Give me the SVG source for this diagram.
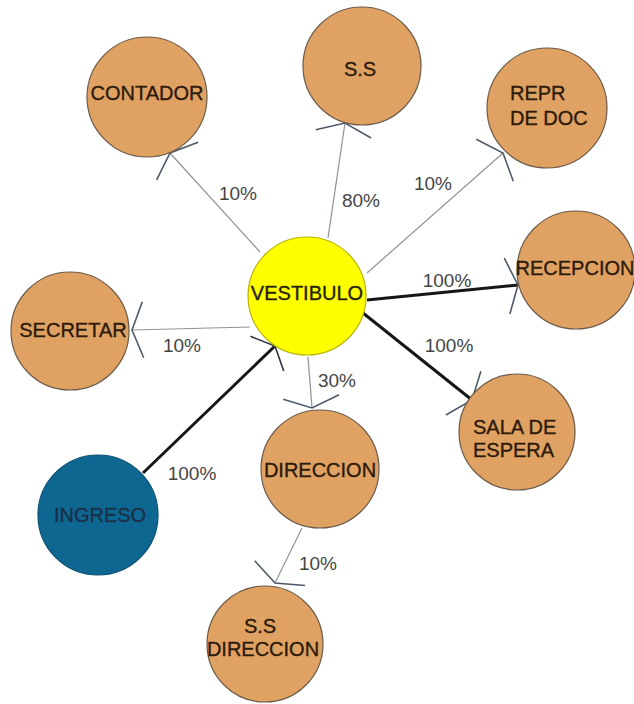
<svg xmlns="http://www.w3.org/2000/svg" width="634" height="704" viewBox="0 0 634 704">
  <defs>
    <style>
      .room { fill: #E0A263; stroke: #6b5a48; stroke-width: 1.2; }
      .hub { fill: #FFFF00; stroke: #b8b400; stroke-width: 1.2; }
      .entry { fill: #0D6791; stroke: #0a4f70; stroke-width: 1.2; }
      .name { font-family: "Liberation Sans", Arial, sans-serif; font-size: 20px; fill: #2c1a0a; stroke: #2c1a0a; stroke-width: 0.35; }
      .entry-name { fill: #1a3048; stroke: #1a3048; }
      .hub-name { fill: #26220a; stroke: #26220a; }
      .pct { font-family: "Liberation Sans", Arial, sans-serif; font-size: 19px; fill: #454545; }
      .thin { stroke: #8d9299; stroke-width: 1.2; fill: none; marker-end: url(#barb); }
      .thick { stroke: #161616; stroke-width: 3; fill: none; marker-end: url(#barb); }
      .thick.dark { marker-end: url(#barb-dark); }
    </style>
    <!-- open wide-angle arrowheads, sized in user units so line width does not scale them -->
    <marker id="barb" markerUnits="userSpaceOnUse" orient="auto" markerWidth="40" markerHeight="70" refX="20" refY="35" viewBox="0 0 40 70">
      <path d="M 9 7 L 20 35 L 9 63" fill="none" stroke="#4e5a67" stroke-width="1.6"/>
    </marker>
    <marker id="barb-dark" markerUnits="userSpaceOnUse" orient="auto" markerWidth="40" markerHeight="70" refX="20" refY="35" viewBox="0 0 40 70">
      <path d="M 9 11 L 20 35 L 9 59" fill="none" stroke="#2b3340" stroke-width="1.6"/>
    </marker>
  </defs>

  <rect x="0" y="0" width="634" height="704" fill="#ffffff"/>

  <!-- connectors -->
  <g id="connectors">
    <line class="thin" x1="260" y1="252" x2="170" y2="153"/>
    <line class="thin" x1="328" y1="238" x2="345" y2="123"/>
    <line class="thin" x1="367" y1="273" x2="503" y2="153"/>
    <line class="thick" x1="367" y1="300" x2="518" y2="285"/>
    <line class="thick" x1="363" y1="313" x2="472" y2="400"/>
    <line class="thin" x1="250" y1="327" x2="132" y2="330"/>
    <line class="thin" x1="308" y1="357" x2="312" y2="408"/>
    <line class="thick dark" x1="143" y1="473" x2="275" y2="346"/>
    <line class="thin" x1="302" y1="528" x2="275" y2="583"/>

    <text class="pct" x="238" y="200" text-anchor="middle">10%</text>
    <text class="pct" x="361" y="207" text-anchor="middle">80%</text>
    <text class="pct" x="433" y="190" text-anchor="middle">10%</text>
    <text class="pct" x="447" y="287" text-anchor="middle">100%</text>
    <text class="pct" x="449" y="352" text-anchor="middle">100%</text>
    <text class="pct" x="182" y="352" text-anchor="middle">10%</text>
    <text class="pct" x="337" y="387" text-anchor="middle">30%</text>
    <text class="pct" x="192" y="480" text-anchor="middle">100%</text>
    <text class="pct" x="318" y="570" text-anchor="middle">10%</text>
  </g>

  <!-- nodes -->
  <g id="contador">
    <circle class="room" cx="147" cy="97" r="60"/>
    <text class="name" x="147" y="100" text-anchor="middle">CONTADOR</text>
  </g>
  <g id="ss">
    <circle class="room" cx="362" cy="66" r="59"/>
    <text class="name" x="360" y="76" text-anchor="middle">S.S</text>
  </g>
  <g id="repr-doc">
    <circle class="room" cx="547" cy="108" r="60"/>
    <text class="name" x="510" y="100">REPR</text>
    <text class="name" x="510" y="125">DE DOC</text>
  </g>
  <g id="recepcion">
    <circle class="room" cx="576" cy="270" r="59"/>
    <text class="name" x="575" y="275" text-anchor="middle">RECEPCION</text>
  </g>
  <g id="vestibulo">
    <circle class="hub" cx="307" cy="296" r="59"/>
    <text class="name hub-name" x="307" y="300" text-anchor="middle">VESTIBULO</text>
  </g>
  <g id="secretar">
    <circle class="room" cx="70" cy="331" r="59"/>
    <text class="name" x="73" y="337" text-anchor="middle">SECRETAR</text>
  </g>
  <g id="sala-espera">
    <circle class="room" cx="517" cy="432" r="58"/>
    <text class="name" x="473" y="434">SALA DE</text>
    <text class="name" x="473" y="457">ESPERA</text>
  </g>
  <g id="direccion">
    <circle class="room" cx="320" cy="469" r="59"/>
    <text class="name" x="320" y="477" text-anchor="middle">DIRECCION</text>
  </g>
  <g id="ingreso">
    <circle class="entry" cx="98" cy="515" r="60"/>
    <text class="name entry-name" x="100" y="522" text-anchor="middle">INGRESO</text>
  </g>
  <g id="ss-direccion">
    <circle class="room" cx="265" cy="644" r="58"/>
    <text class="name" x="260" y="633" text-anchor="middle">S.S</text>
    <text class="name" x="263" y="656" text-anchor="middle">DIRECCION</text>
  </g>
</svg>
